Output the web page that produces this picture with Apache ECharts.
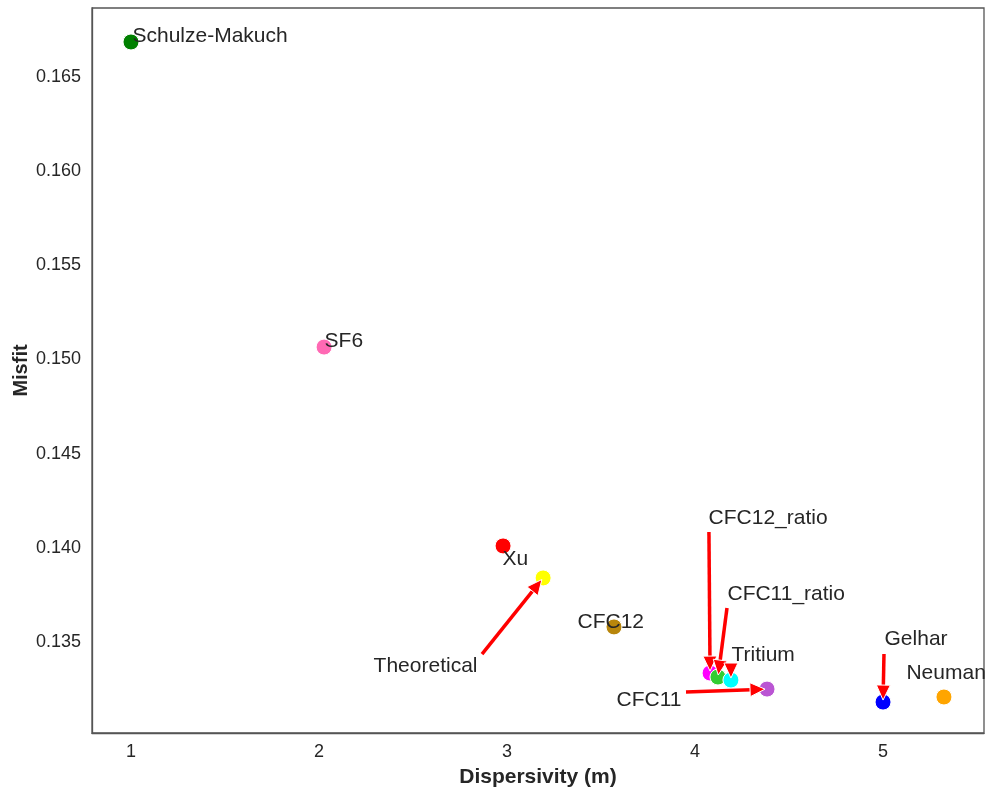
<!DOCTYPE html>
<html>
<head>
<meta charset="utf-8">
<script src="https://cdn.jsdelivr.net/npm/echarts@6/dist/echarts.min.js"></script>
<style>
  html, body { margin: 0; padding: 0; background: #fff; }
  #chart { width: 985px; height: 789px; }
</style>
</head>
<body>
<div id="chart"></div>
<script>
// Misfit of each dispersivity estimate
const names = ['Schulze-Makuch', 'SF6', 'Xu', 'Theoretical', 'CFC12', 'CFC12_ratio',
               'CFC11_ratio', 'Tritium', 'CFC11', 'Gelhar', 'Neuman'];
const dispersivity = [1.0, 2.027, 2.979, 3.192, 3.569, 4.080, 4.122, 4.191, 4.383, 5.0, 5.324];
const misfit = [0.16686, 0.15066, 0.14010, 0.13840, 0.13580, 0.13335, 0.13314, 0.13298, 0.13250, 0.13181, 0.13208];

// Annotation text anchors (data units) for the labels that carry an arrow
const arrowFromX = { 'Theoretical': 2.867, 'CFC12_ratio': 4.074, 'CFC11_ratio': 4.170,
                     'Tritium': 4.191, 'CFC11': 3.952, 'Gelhar': 5.005 };
const arrowFromY = { 'Theoretical': 0.13436, 'CFC12_ratio': 0.14084, 'CFC11_ratio': 0.13681,
                     'Tritium': 0.13367, 'CFC11': 0.13235, 'Gelhar': 0.13436 };

const xTicks = [1, 2, 3, 4, 5];
const yTicks = [0.135, 0.140, 0.145, 0.150, 0.155, 0.160, 0.165];

// Styling
const colors = ['#008000', '#ff69b4', '#ff0000', '#ffff00', '#b8860b', '#ff00ff',
                '#32cd32', '#00ffff', '#ba55d3', '#0000ff', '#ffa500'];
const SYM = 16;
// label offsets in pixels from the marker centre, [dx, dy]; text anchored left/middle
const labelOffset = {
  'Schulze-Makuch': [2, -7], 'SF6': [1, -7], 'Xu': [0, 12], 'Theoretical': [-169, 87],
  'CFC12': [-36, -6], 'CFC12_ratio': [-1, -156], 'CFC11_ratio': [10, -84],
  'Tritium': [1, -26], 'CFC11': [-150, 10], 'Gelhar': [2, -64], 'Neuman': [-37, -25]
};
const ARROW = { color: '#ff0000', width: 3.5, headLen: 15, headHalf: 7, gap: 2 };
const textColor = '#262626';
const FONT = 'Liberation Sans, Arial, Helvetica, sans-serif';

const points = names.map((n, i) => ({
  name: n,
  value: [dispersivity[i], misfit[i]],
  itemStyle: { color: colors[i] },
  label: { position: [SYM / 2 + labelOffset[n][0], SYM / 2 + labelOffset[n][1] + 2] }
}));

const chart = echarts.init(document.getElementById('chart'), null, { renderer: 'canvas' });
chart.setOption({
  animation: false,
  backgroundColor: '#ffffff',
  grid: {
    left: 92, right: 1, top: 8, bottom: 56, outerBoundsMode: 'none', containLabel: false,
    show: true, borderColor: '#555', borderWidth: 1.3
  },
  xAxis: {
    type: 'value', min: 0.7926, max: 5.537,
    name: 'Dispersivity (m)', nameLocation: 'middle', nameGap: 34,
    nameTextStyle: { fontFamily: FONT, fontSize: 21, fontWeight: 'bold', color: textColor },
    axisLine: { show: true, lineStyle: { color: '#555', width: 1.3 } },
    axisTick: { show: false }, splitLine: { show: false },
    axisLabel: {
      fontFamily: FONT, fontSize: 18, color: textColor, margin: 10,
      customValues: xTicks, formatter: v => String(v)
    }
  },
  yAxis: {
    type: 'value', min: 0.130168, max: 0.168664,
    name: 'Misfit', nameLocation: 'middle', nameGap: 61, nameMoveOverlap: false,
    nameTextStyle: { fontFamily: FONT, fontSize: 20, fontWeight: 'bold', color: textColor },
    axisLine: { show: true, lineStyle: { color: '#555', width: 1.3 } },
    axisTick: { show: false }, splitLine: { show: false },
    axisLabel: {
      fontFamily: FONT, fontSize: 18, color: textColor, margin: 11,
      customValues: yTicks, formatter: v => v.toFixed(3)
    }
  },
  series: [{
    type: 'scatter',
    symbolSize: SYM,
    itemStyle: { borderColor: '#ffffff', borderWidth: 1, opacity: 1 },
    label: {
      show: true, align: 'left', verticalAlign: 'middle',
      formatter: p => p.name,
      fontFamily: FONT, fontSize: 21, color: textColor
    },
    labelLayout: { hideOverlap: false },
    data: points
  }]
});

// Annotation arrows: from each text anchor to its point, drawn on the scales
const arrowGraphics = [];
names.forEach((n, i) => {
  if (!(n in arrowFromX)) return;
  const p0 = chart.convertToPixel({ gridIndex: 0 }, [arrowFromX[n], arrowFromY[n]]);
  const p1 = chart.convertToPixel({ gridIndex: 0 }, [dispersivity[i], misfit[i]]);
  const dx = p1[0] - p0[0], dy = p1[1] - p0[1];
  const len = Math.hypot(dx, dy);
  const ux = dx / len, uy = dy / len;
  const tip = [p1[0] - ux * ARROW.gap, p1[1] - uy * ARROW.gap];
  const base = [tip[0] - ux * ARROW.headLen, tip[1] - uy * ARROW.headLen];
  arrowGraphics.push({
    type: 'line', zlevel: 1, z: 100, silent: true,
    shape: { x1: p0[0], y1: p0[1], x2: base[0] + ux, y2: base[1] + uy },
    style: { stroke: ARROW.color, lineWidth: ARROW.width }
  });
  arrowGraphics.push({
    type: 'polygon', zlevel: 1, z: 101, silent: true,
    shape: { points: [
      tip,
      [base[0] - uy * ARROW.headHalf, base[1] + ux * ARROW.headHalf],
      [base[0] + uy * ARROW.headHalf, base[1] - ux * ARROW.headHalf]
    ] },
    style: { fill: ARROW.color, stroke: '#ffffff', lineWidth: 1 }
  });
});
chart.setOption({ graphic: arrowGraphics });
</script>
</body>
</html>
